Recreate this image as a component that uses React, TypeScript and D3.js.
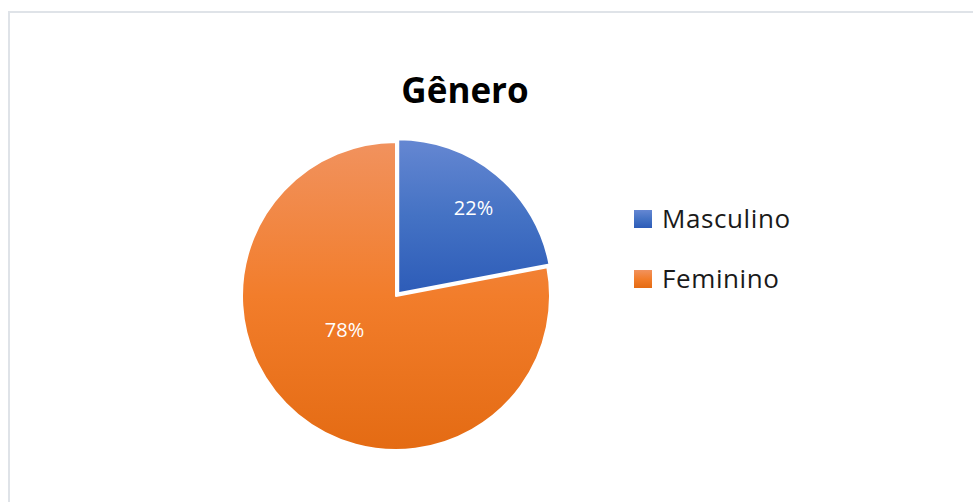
import React, { useEffect, useRef } from 'react';
import * as d3 from 'd3';

// data
const categories = ['Masculino', 'Feminino'];
const values = [22, 78];
const title = 'Gênero';

const colorsTop = ['#6587d2', '#f1925e'];
const colorsMid = ['#4472c4', '#f27d2b'];
const colorsBottom = ['#2d5cb8', '#e46b13'];

const App = () => {
  const ref = useRef<SVGSVGElement>(null);

  useEffect(() => {
    const svg = d3.select(ref.current);
    svg.selectAll('*').remove();

    const width = 973, height = 502;
    const cx = 396, cy = 296, radius = 154;

    // frame
    svg.append('rect')
      .attr('x', 9).attr('y', 12)
      .attr('width', width).attr('height', height)
      .attr('fill', 'white')
      .attr('stroke', '#dfe3e8').attr('stroke-width', 2);

    // gradients per shape bounding box
    const defs = svg.append('defs');
    categories.forEach((c, i) => {
      const g = defs.append('linearGradient')
        .attr('id', 'grad' + i)
        .attr('x1', 0).attr('y1', 0)
        .attr('x2', 0).attr('y2', 1);
      g.append('stop').attr('offset', '0%').attr('stop-color', colorsTop[i]);
      g.append('stop').attr('offset', '50%').attr('stop-color', colorsMid[i]);
      g.append('stop').attr('offset', '100%').attr('stop-color', colorsBottom[i]);
    });

    svg.append('text')
      .attr('x', 465).attr('y', 103)
      .attr('text-anchor', 'middle')
      .style('font-family', '"Open Sans", sans-serif')
      .style('font-weight', 'bold')
      .style('font-size', '35px')
      .style('fill', 'black')
      .text(title);

    const pie = d3.pie<number>().sort(null).value((d) => d);
    const arcs = pie(values);
    const arc = d3.arc<d3.PieArcDatum<number>>().innerRadius(0).outerRadius(radius);
    const explode = [3.5, 0];
    // best-fit style label placement
    const labelRadius = [0.74, 0.4];
    const labelShift = [0.03, 17 * Math.PI / 180];

    const total = d3.sum(values);
    const g = svg.append('g');

    arcs.forEach((a, i) => {
      const mid = (a.startAngle + a.endAngle) / 2;
      const dx = Math.sin(mid) * explode[i];
      const dy = -Math.cos(mid) * explode[i];
      const sg = g.append('g').attr('transform', `translate(${cx + dx},${cy + dy})`);
      sg.append('path')
        .attr('d', arc(a) as string)
        .attr('fill', `url(#grad${i})`)
        .attr('stroke', 'white')
        .attr('stroke-width', 2)
        .attr('stroke-linejoin', 'round');
    });

    arcs.forEach((a, i) => {
      const mid = (a.startAngle + a.endAngle) / 2;
      const dx = Math.sin(mid) * explode[i];
      const dy = -Math.cos(mid) * explode[i];
      const la = mid + labelShift[i];
      const lr = radius * labelRadius[i];
      g.append('text')
        .attr('x', cx + dx + Math.sin(la) * lr)
        .attr('y', cy + dy - Math.cos(la) * lr)
        .attr('text-anchor', 'middle')
        .attr('dy', '0.35em')
        .style('font-family', '"Open Sans", sans-serif')
        .style('font-size', '20px')
        .style('fill', 'white')
        .text(Math.round((values[i] / total) * 100) + '%');
    });

    // legend
    const legend = svg.append('g').attr('transform', 'translate(634,210)');
    categories.forEach((c, i) => {
      const item = legend.append('g').attr('transform', `translate(0,${i * 60})`);
      item.append('rect')
        .attr('width', 18).attr('height', 18)
        .attr('fill', `url(#grad${i})`);
      item.append('text')
        .attr('x', 28).attr('y', 18)
        .style('font-family', '"Open Sans", sans-serif')
        .style('font-size', '26px')
        .style('letter-spacing', '0.6px')
        .style('fill', '#1a1a1a')
        .text(c);
    });
  }, []);

  return (
    <svg ref={ref} width={973} height={502}
      style={{ position: 'absolute', left: 0, top: 0, display: 'block' }} />
  );
};

export default App;
